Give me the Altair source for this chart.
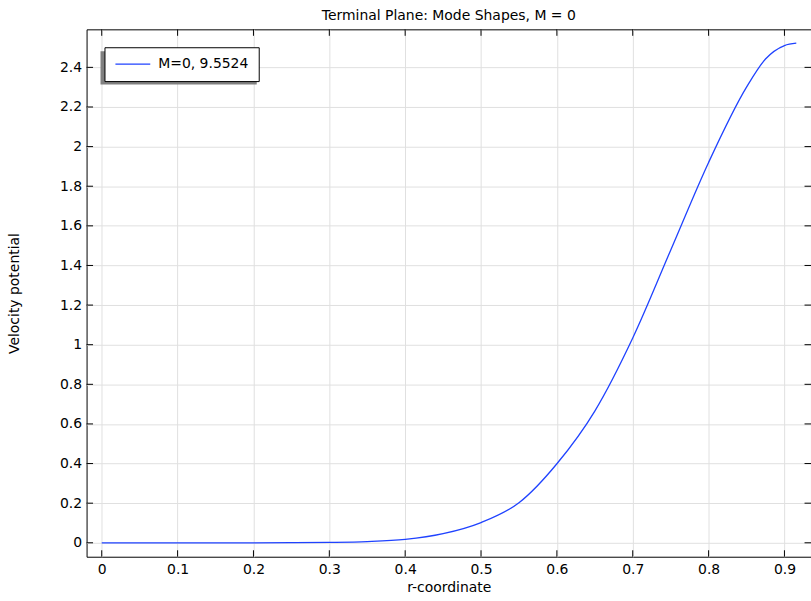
import altair as alt
import pandas as pd

# Mode shape sampled along the radius
r_values = [0, 0.05, 0.1, 0.15, 0.2, 0.25, 0.3, 0.35, 0.4, 0.45, 0.5, 0.55,
            0.6, 0.65, 0.7, 0.75, 0.8, 0.85, 0.875, 0.9, 0.9156]
potential = [0, 0, 0, 0, 0, 0.0005, 0.002, 0.006, 0.017, 0.046, 0.102, 0.202,
             0.399, 0.665, 1.034, 1.477, 1.92, 2.30, 2.442, 2.51, 2.522]
series_name = "M=0, 9.5524"

x_ticks = [0, 0.1, 0.2, 0.3, 0.4, 0.5, 0.6, 0.7, 0.8, 0.9]
y_ticks = [0, 0.2, 0.4, 0.6, 0.8, 1.0, 1.2, 1.4, 1.6, 1.8, 2.0, 2.2, 2.4]

x_domain = [-0.02, 0.935]
y_domain = [-0.0704, 2.592]

W, H = 728, 530
FONT = "DejaVu Sans"
TICK_LEN = 6.5

df = pd.DataFrame({"r": r_values, "v": potential, "series": series_name})
xt = pd.DataFrame({"t": x_ticks})
yt = pd.DataFrame({"t": y_ticks})

xscale = alt.Scale(domain=x_domain, nice=False, zero=False)
yscale = alt.Scale(domain=y_domain, nice=False, zero=False)

x_axis = alt.Axis(values=x_ticks, format=".1~f", grid=True, ticks=False,
                  domain=False, labelPadding=6, titleY=31, titleBaseline="middle")
y_axis = alt.Axis(values=y_ticks, format=".1~f", grid=True, ticks=False,
                  domain=False, labelPadding=5, titleX=-72, titleY=H / 2,
                  titleAngle=-90, titleBaseline="middle")


def x_enc(field):
    return alt.X(field, type="quantitative", scale=xscale, title="r-coordinate", axis=x_axis)


def y_enc(field):
    return alt.Y(field, type="quantitative", scale=yscale, title="Velocity potential", axis=y_axis)


line = alt.Chart(df).mark_line(strokeWidth=1.3, interpolate="monotone").encode(
    x=x_enc("r"),
    y=y_enc("v"),
    color=alt.Color("series:N", scale=alt.Scale(range=["#1f42ff"]),
                    legend=alt.Legend(title=None, orient="none", legendX=18, legendY=18,
                                      symbolType="stroke", symbolSize=1225,
                                      symbolStrokeWidth=1.3, labelOffset=7,
                                      padding=10, clipHeight=14, fillColor="white",
                                      strokeColor="black", labelFontSize=14,
                                      labelFont=FONT, labelColor="black")),
)

# Drop shadow behind the legend box
shadow = alt.Chart(pd.DataFrame({"k": [0]})).mark_rect(color="#808080").encode(
    x=alt.value(14), x2=alt.value(171), y=alt.value(22), y2=alt.value(55.5)
)

# Inward-facing ticks on all four sides of the frame
tick_style = dict(color="black", strokeWidth=1)
bottom_ticks = alt.Chart(xt).mark_rule(**tick_style).encode(
    x=x_enc("t"), y=alt.value(H), y2=alt.value(H - TICK_LEN))
top_ticks = alt.Chart(xt).mark_rule(**tick_style).encode(
    x=x_enc("t"), y=alt.value(0), y2=alt.value(TICK_LEN))
left_ticks = alt.Chart(yt).mark_rule(**tick_style).encode(
    y=y_enc("t"), x=alt.value(0), x2=alt.value(TICK_LEN))
right_ticks = alt.Chart(yt).mark_rule(**tick_style).encode(
    y=y_enc("t"), x=alt.value(W), x2=alt.value(W - TICK_LEN))

chart = alt.layer(shadow, line, bottom_ticks, top_ticks, left_ticks, right_ticks).properties(
    width=W, height=H,
    padding={"left": 87, "top": 28, "right": 0, "bottom": 43},
    autosize=alt.AutoSizeParams(type="none"),
    title=alt.Title("Terminal Plane: Mode Shapes, M = 0", fontSize=14, fontWeight="normal",
                    font=FONT, color="black", anchor="middle", baseline="bottom",
                    frame="group", offset=8, dy=16),
).configure(background="white").configure_view(
    stroke="black", strokeWidth=1
).configure_axis(
    gridColor="#e0e0e0", gridWidth=1, labelFont=FONT, labelFontSize=14,
    labelColor="black", titleFont=FONT, titleFontSize=14, titleFontWeight="normal",
    titleColor="black",
)

chart.save("out.html", embed_options={"renderer": "svg", "actions": False})
